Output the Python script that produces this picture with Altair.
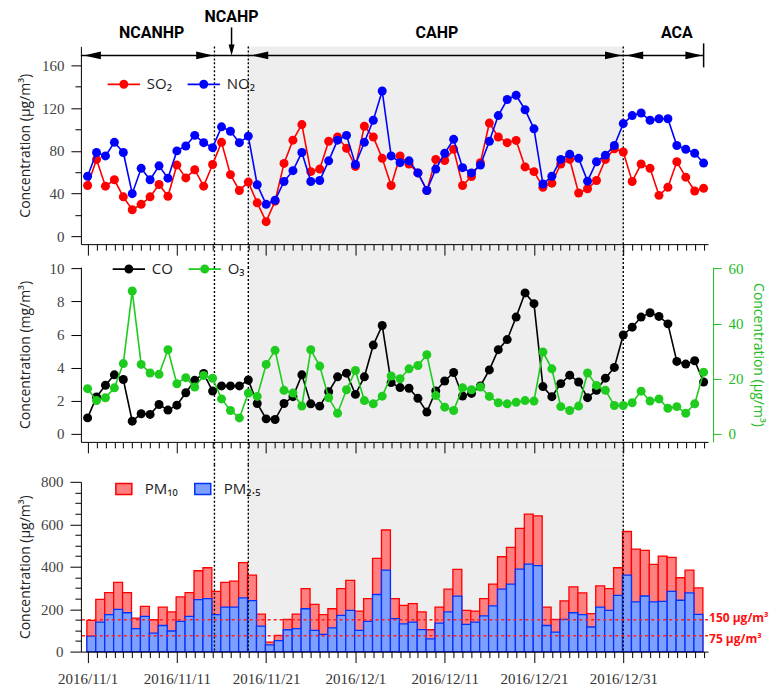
import json
import altair as alt
import pandas as pd

# ---------------- data ----------------
DATES = pd.date_range("2016-11-01", periods=70, freq="D")

SO2 = [47.6, 72, 47, 53, 37, 25, 30, 37, 48.6, 37.6, 66.7, 54.7, 62.4, 47, 67.3, 88, 57.8, 43, 50.8, 31.4,
       13.8, 33, 68.3, 90, 104.6, 60.6, 63, 89, 93, 82.4, 65.5, 103, 93, 73, 47.6, 75.3,
       67.7, 59.4, 43, 72, 71, 81.5, 47.6, 56, 69, 106, 93, 87.7, 89.8, 65, 60.6, 46, 49.8, 67.7,
       72, 40.6, 44.6, 52.3, 72, 82, 79, 51.4, 67.7, 63.7, 38.4, 46, 69.8, 55.4, 42.5, 45]
NO2 = [56.3, 78.5, 75.3, 88, 78.5, 40, 63.7, 53, 66, 54.5, 80, 84.6, 94.5, 87.7, 83, 102.5, 98.4, 87.7, 93.8, 48.3,
       30, 33.8, 51.4, 61.5, 78.5, 51.4, 52.3, 70.7, 90, 94.5, 67.3, 88, 108.6, 136, 75.3, 69,
       70.7, 59.4, 43, 63, 77.8, 90.8, 64.3, 59.4, 66.7, 89, 113, 128, 132, 118.5, 100.6, 49, 56.3, 72,
       76.9, 73, 51.7, 69.8, 76, 85, 105.5, 113, 115.4, 108.6, 110, 110, 85, 81.5, 77.8, 68.6]
CO = [0.97, 2.23, 2.94, 3.57, 3.29, 0.77, 1.22, 1.18, 1.78, 1.44, 1.74, 2.49, 3.24, 3.65, 2.59, 2.9, 2.9, 2.9,
      3.26, 1.84, 0.91, 0.87, 1.84, 2.25, 3.57, 1.82, 1.68, 2.55, 3.45, 3.67, 2.39, 3.45, 5.37, 6.55, 3.1, 2.8,
      2.76, 2.15, 1.32, 2.6, 3.2, 3.71, 2.29, 2.45, 2.9, 3.87, 5.09, 5.7, 7.06, 8.52, 7.87, 2.86, 2.25, 3.04,
      3.55, 3.14, 2.19, 2.64, 3.37, 4.02, 5.98, 6.45, 7.06, 7.32, 7.1, 6.65, 4.38, 4.22, 4.42, 3.14]
O3 = [16.4, 12.1, 13.1, 16.7, 25.5, 51.8, 25.2, 22.1, 21.6, 30.5, 18.2, 20.4, 17, 21.2, 20.2, 12.7, 8.5, 5.8,
      14.8, 13.6, 25.2, 30.3, 15.8, 14.8, 10.1, 30.5, 24.6, 13.1, 7.5, 16, 23, 12.1, 10.9, 13.7, 21, 20,
      23.6, 24.8, 28.7, 13.9, 9.7, 8.5, 16.7, 16, 17, 13.6, 11.3, 10.9, 11.5, 12.1, 11.9, 29.7, 23.6, 9.9,
      8.5, 10.1, 22.1, 17.6, 15.8, 10.3, 10.3, 11.3, 15.5, 11.9, 12.7, 9.3, 9.9, 7.5, 10.9, 22.4]
PM10 = [147, 246, 278, 326, 278, 158, 213, 150, 210, 187, 258, 278, 381, 395, 284, 326, 332, 419, 360, 177,
        44.5, 76, 152, 177, 297, 223, 174, 202, 297, 336, 191, 250, 439, 573, 250, 218, 226, 187, 103, 210,
        294, 387, 194, 191, 250, 318, 447, 491, 581, 648, 640, 210, 152, 239, 305, 277, 179, 310, 297, 395,
        566, 483, 477, 411, 450, 444, 348, 384, 300]
PM25 = [73, 139, 174, 199, 183, 108, 166, 87, 123, 97, 142, 166, 245, 250, 174, 210, 210, 253, 240, 120,
        32, 52, 103, 108, 202, 100, 81, 112, 171, 194, 100, 142, 269, 384, 155, 131, 139, 104, 60, 134,
        187, 261, 128, 139, 168, 215, 294, 318, 389, 412, 405, 123, 92, 152, 183, 174, 116, 210, 194, 265,
        360, 234, 262, 234, 237, 284, 242, 277, 175]

MAJOR_LABELS = ["2016/11/1", "2016/11/11", "2016/11/21", "2016/12/1", "2016/12/11", "2016/12/21", "2016/12/31"]

PERIOD_NAMES = ["NCANHP", "NCAHP", "CAHP", "ACA"]
PERIOD_START = ["2016-10-31T06:00", "2016-11-15T05:00", "2016-11-19T00:00", "2016-12-31T00:00"]
PERIOD_END = ["2016-11-15T05:00", "2016-11-19T00:00", "2016-12-31T00:00", "2017-01-09T00:00"]
PERIOD_LABEL_AT = ["2016-11-08T04:00", "2016-11-17T03:00", "2016-12-10T03:00", "2017-01-06T00:00"]

LIMITS = [150, 75]
LIMIT_LABELS = ["150 μg/m³", "75 μg/m³"]

# ---------------- layout ----------------
W, H1, H2, H3 = 628, 198, 175, 170
GAP1, GAP2 = 23, 40
EXTRA = GAP2 - GAP1          # extra room above the bottom plot
H3G = H3 + EXTRA
X_DOMAIN = [alt.DateTime(year=2016, month=10, date=31, hours=6),
            alt.DateTime(year=2017, month=1, date=9, hours=12)]

FMT = "timeFormat(datum.value, '%Y/%-m/%-d')"
IS_MAJOR = f"indexof({json.dumps(MAJOR_LABELS)}, {FMT}) >= 0"
TICK_VALUES = [alt.DateTime(year=int(d.year), month=int(d.month), date=int(d.day)) for d in DATES]

SERIF = "Liberation Serif"
SANS = "Open Sans"


def xaxis(labels):
    kw = dict(title=None, values=TICK_VALUES, grid=False, zindex=1,
              tickSize={"condition": {"test": IS_MAJOR, "value": 11}, "value": 6},
              tickColor="black", domainColor="black", tickWidth=1, domainWidth=1)
    if labels:
        kw.update(labelExpr=f"{IS_MAJOR} ? {FMT} : ''", labelFont=SERIF, labelFontSize=15,
                  labelColor="#333", labelPadding=9, labelOverlap=False, labelFlush=False)
    else:
        kw.update(labels=False)
    return alt.Axis(**kw)


def left_axis(values, step, title, h, top=0, major=10, minor=6, pad=7):
    test = f"datum.value % {step} === 0"
    return alt.Axis(values=values, labelExpr=f"{test} ? datum.label : ''",
                    tickSize={"condition": {"test": test, "value": major}, "value": minor},
                    grid=False, tickColor="black", domainColor="black", labelFont=SERIF,
                    labelFontSize=15, labelColor="#444", labelPadding=pad,
                    title=title, titleFont=SANS, titleFontSize=14, titleFontWeight="normal",
                    titleColor="#222", titleX=-55, titleY=top + h / 2, titleAngle=270,
                    titleAlign="center", titleBaseline="middle")


def xenc(field, axis):
    return alt.X(f"{field}:T", scale=alt.Scale(domain=X_DOMAIN), axis=axis, title=None)


LINE_DOT = "M-1.8,-0.09L1.8,-0.09L1.8,0.09L-1.8,0.09Z M0.5,0A0.5,0.5,0,1,1,-0.5,0A0.5,0.5,0,1,1,0.5,0Z"
RECT_SYM = "M-1,-0.69L1,-0.69L1,0.69L-1,0.69Z"
LEFT_HEAD = "M0.35,0L2.35,-0.47L2.35,0.47Z"
RIGHT_HEAD = "M-0.15,0L-2.15,-0.47L-2.15,0.47Z"
DOWN_HEAD = "M0,0L-0.5,-1.8L0.5,-1.8Z"


def line_legend(x, y):
    return alt.Legend(orient="none", legendX=x, legendY=y, direction="horizontal", title=None,
                      symbolType=LINE_DOT, symbolSize=324, symbolStrokeWidth=0, labelOffset=14,
                      columnPadding=14, labelFont=SANS, labelFontSize=15, labelColor="#222", padding=0)


periods = pd.DataFrame({"name": PERIOD_NAMES,
                        "start": pd.to_datetime(PERIOD_START),
                        "end": pd.to_datetime(PERIOD_END),
                        "label_at": pd.to_datetime(PERIOD_LABEL_AT)})
bounds_df = periods.iloc[1:][["start"]]
gray_df = periods[periods.name == "CAHP"]


def background(ax, h_extra):
    gray = alt.Chart(gray_df).mark_rect(color="#EEEEEE").encode(
        x=xenc("start", ax), x2=alt.X2("end:T"), y=alt.value(0), y2=alt.value(h_extra))
    dots = alt.Chart(bounds_df).mark_rule(color="black", strokeDash=[2, 2], strokeWidth=1.4).encode(
        x=xenc("start", ax), y=alt.value(0), y2=alt.value(h_extra))
    return gray, dots


# ---------------- top panel ----------------
ax_top = xaxis(False)
top_df = pd.DataFrame({"date": list(DATES) * 2,
                       "series": ["SO₂"] * 70 + ["NO₂"] * 70,
                       "value": SO2 + NO2})
y_top = alt.Y("value:Q", scale=alt.Scale(domain=[-7.2, 177.7], nice=False, zero=False),
              axis=left_axis(list(range(0, 161, 20)), 40, "Concentration (μg/m³)", H1, pad=7))
c_top = alt.Color("series:N", scale=alt.Scale(domain=["SO₂", "NO₂"], range=["#FF0000", "#0000FF"]),
                  legend=line_legend(34, 29))
top_layers = list(background(ax_top, H1 + GAP1))
for s in ["SO₂", "NO₂"]:
    sub = top_df[top_df.series == s]
    top_layers.append(alt.Chart(sub).mark_line(strokeWidth=1.6).encode(x=xenc("date", ax_top), y=y_top, color=c_top))
    top_layers.append(alt.Chart(sub).mark_circle(size=81, opacity=1).encode(x=xenc("date", ax_top), y=y_top, color=c_top))

arrowed = periods[periods.name != "NCAHP"]
top_layers += [
    alt.Chart(periods).mark_rule(color="black", strokeWidth=1.5).encode(
        x=xenc("start", ax_top), x2=alt.X2("end:T"), y=alt.value(9)),
    alt.Chart(arrowed).mark_point(shape=LEFT_HEAD, filled=True, size=289, color="black", opacity=1).encode(
        x=xenc("start", ax_top), y=alt.value(9)),
    alt.Chart(arrowed).mark_point(shape=RIGHT_HEAD, filled=True, size=289, color="black", opacity=1).encode(
        x=xenc("end", ax_top), y=alt.value(9)),
    alt.Chart(periods[periods.name == "ACA"]).mark_rule(color="black", strokeWidth=1.5).encode(
        x=xenc("end", ax_top), y=alt.value(-3), y2=alt.value(21)),
    alt.Chart(periods[periods.name == "NCAHP"]).mark_rule(color="black", strokeWidth=1.5).encode(
        x=xenc("label_at", ax_top), y=alt.value(-19), y2=alt.value(4)),
    alt.Chart(periods[periods.name == "NCAHP"]).mark_point(shape=DOWN_HEAD, filled=True, size=144, color="black", opacity=1).encode(
        x=xenc("label_at", ax_top), y=alt.value(9)),
    alt.Chart(arrowed).mark_text(font="Roboto", fontSize=16, fontWeight="bold", color="black",
                                 align="center", baseline="middle").encode(
        x=xenc("label_at", ax_top), y=alt.value(-13), text="name:N"),
    alt.Chart(periods[periods.name == "NCAHP"]).mark_text(font="Roboto", fontSize=16, fontWeight="bold", color="black",
                                                         align="center", baseline="middle").encode(
        x=xenc("label_at", ax_top), y=alt.value(-29), text="name:N"),
]
top = alt.layer(*top_layers).properties(width=W, height=H1)

# ---------------- middle panel ----------------
ax_mid = xaxis(False)
mid_df = pd.DataFrame({"date": list(DATES) * 2,
                       "series": ["CO"] * 70 + ["O₃"] * 70,
                       "value": CO + O3})
c_mid = alt.Color("series:N", scale=alt.Scale(domain=["CO", "O₃"], range=["#000000", "#1ECC1E"]),
                  legend=line_legend(39, -7))
y_co = alt.Y("value:Q", scale=alt.Scale(domain=[-0.48, 10.08], nice=False, zero=False),
             axis=left_axis([0, 2, 4, 6, 8, 10], 2, "Concentration (mg/m³)", H2, pad=7))
GREEN = "#22BB22"
y_o3 = alt.Y("value:Q", scale=alt.Scale(domain=[-2.88, 60.48], nice=False, zero=False),
             axis=alt.Axis(orient="right", values=[0, 20, 40, 60], offset=5, grid=False, tickSize=8,
                           tickColor=GREEN, domainColor=GREEN, labelColor=GREEN, labelFont=SERIF,
                           labelFontSize=15, labelPadding=7, title="Concentration (μg/m³)",
                           titleColor=GREEN, titleFont=SANS, titleFontSize=14, titleFontWeight="normal",
                           titleX=44, titleY=H2 / 2, titleAngle=90, titleAlign="center",
                           titleBaseline="middle"))
co_sub = mid_df[mid_df.series == "CO"]
o3_sub = mid_df[mid_df.series == "O₃"]
co_layer = alt.layer(
    alt.Chart(co_sub).mark_line(strokeWidth=1.6).encode(x=xenc("date", ax_mid), y=y_co, color=c_mid),
    alt.Chart(co_sub).mark_circle(size=81, opacity=1).encode(x=xenc("date", ax_mid), y=y_co, color=c_mid))
o3_layer = alt.layer(
    alt.Chart(o3_sub).mark_line(strokeWidth=1.6).encode(x=xenc("date", ax_mid), y=y_o3, color=c_mid),
    alt.Chart(o3_sub).mark_circle(size=81, opacity=1).encode(x=xenc("date", ax_mid), y=y_o3, color=c_mid))
g2, d2 = background(ax_mid, H2 + GAP1)
mid = alt.layer(g2, d2, co_layer, o3_layer).resolve_scale(y="independent").properties(width=W, height=H2)

# ---------------- bottom panel ----------------
ax_bot = xaxis(True)
bar_dates = DATES[:69]
pm_df = pd.DataFrame({"x0": list(bar_dates - pd.Timedelta(hours=2)) * 2,
                      "x1": list(bar_dates + pd.Timedelta(hours=22)) * 2,
                      "series": ["PM₁₀"] * 69 + ["PM₂.₅"] * 69,
                      "value": PM10 + PM25})
y_pm = alt.Y("value:Q", scale=alt.Scale(domain=[0, 800], range=[H3G, EXTRA], nice=False),
             axis=left_axis(list(range(0, 801, 50)), 200, "Concentration (μg/m³)", H3, top=EXTRA,
                            major=11, minor=6, pad=7))
pm_dom = ["PM₁₀", "PM₂.₅"]
bar_legend = alt.Legend(orient="none", legendX=34, legendY=EXTRA - 2, direction="horizontal", title=None,
                        symbolType=RECT_SYM, symbolSize=256, symbolStrokeWidth=1.5, labelOffset=12,
                        columnPadding=14, labelFont=SANS, labelFontSize=15, labelColor="#222", padding=0)
f_pm = alt.Fill("series:N", scale=alt.Scale(domain=pm_dom, range=["#FF8080", "#7F9FFF"]), legend=bar_legend)
s_pm = alt.Stroke("series:N", scale=alt.Scale(domain=pm_dom, range=["#FF0000", "#0033FF"]), legend=bar_legend)
g3, d3 = background(ax_bot, H3G)
lim_df = pd.DataFrame({"value": LIMITS, "label": LIMIT_LABELS})
bot_layers = [g3]
for s in pm_dom:
    sub = pm_df[pm_df.series == s]
    bot_layers.append(alt.Chart(sub).mark_bar(strokeWidth=1.3, opacity=1).encode(
        x=xenc("x0", ax_bot), x2=alt.X2("x1:T"), y=y_pm, y2=alt.datum(0), fill=f_pm, stroke=s_pm))
bot_layers += [
    d3,
    alt.Chart(lim_df).mark_rule(color="#FF2020", strokeDash=[3, 3], strokeWidth=1.5).encode(y=y_pm),
    alt.Chart(lim_df[lim_df.value == 150]).mark_text(align="left", baseline="middle", color="#FF1010", font=SANS,
                                                     fontSize=12, fontWeight="bold", dy=-2).encode(
        x=alt.value(W + 1), y=y_pm, text="label:N"),
    alt.Chart(lim_df[lim_df.value == 75]).mark_text(align="left", baseline="middle", color="#FF1010", font=SANS,
                                                    fontSize=12, fontWeight="bold", dy=3).encode(
        x=alt.value(W + 1), y=y_pm, text="label:N"),
]
bottom = alt.layer(*bot_layers).properties(width=W, height=H3G)

chart = alt.vconcat(
    top, mid, bottom, spacing=GAP1, bounds="flush"
).resolve_scale(
    color="independent", fill="independent", stroke="independent"
).properties(
    padding={"left": 11, "top": 1, "right": 0, "bottom": 0}, background="white"
).configure_view(stroke=None)

chart.save("out.html", embed_options={"renderer": "svg", "actions": False})
